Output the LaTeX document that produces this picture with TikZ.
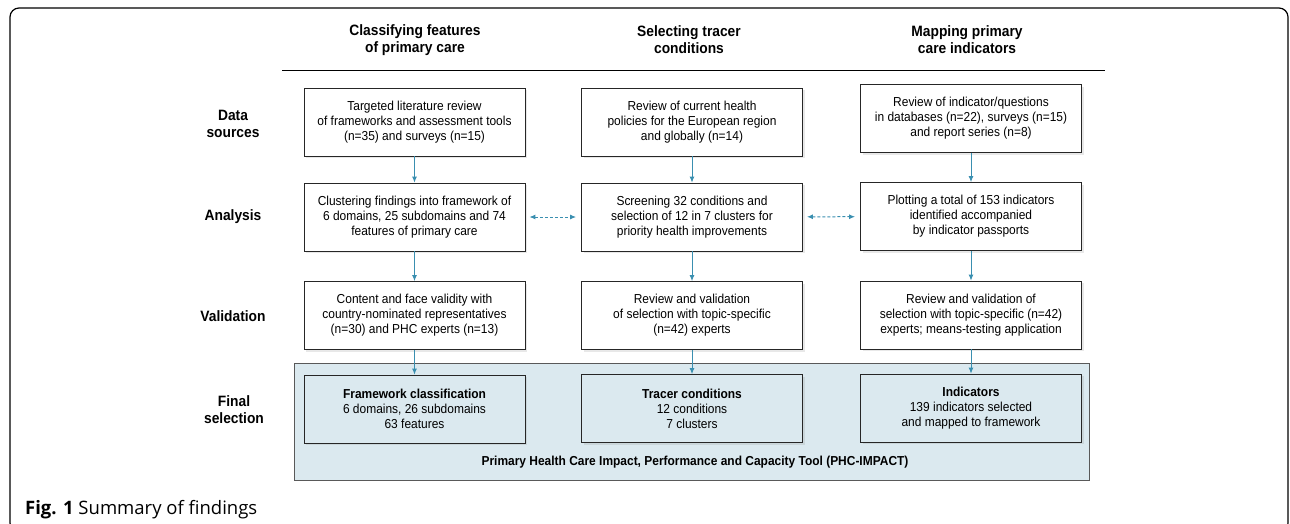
\documentclass[tikz,border=0pt]{standalone}
\usepackage{fontspec}
\setmainfont{Liberation Sans}
\newfontfamily\boxfont{Liberation Sans}[FakeStretch=0.92]
\newfontfamily\capfont{Open Sans}
\usetikzlibrary{arrows.meta,shadows}
\definecolor{flowblue}{HTML}{3A8FB0}
\definecolor{finalfill}{HTML}{DBE9EF}

\begin{document}
\begin{tikzpicture}[x=1pt,y=-1pt,
	box/.style={rectangle, draw=black!85, line width=0.8pt, fill=white, align=center,
		minimum width=221pt, minimum height=68pt, inner sep=0pt,
		font=\boxfont\fontsize{13}{15}\selectfont,
		drop shadow={opacity=0.18, shadow xshift=2pt, shadow yshift=-2pt}},
	finalbox/.style={box, fill=finalfill},
	rowlabel/.style={align=center, font=\boxfont\fontsize{15}{17}\selectfont\bfseries},
	header/.style={align=center, font=\boxfont\fontsize{15}{17}\selectfont\bfseries},
	flow/.style={draw=flowblue, line width=0.9pt, -{Latex[length=6pt,width=5pt]}},
	link/.style={draw=flowblue, line width=1pt, dash pattern=on 3pt off 2pt,
		{Latex[length=6pt,width=5pt]}-{Latex[length=6pt,width=5pt]}, shorten <=4pt, shorten >=5pt}]
	\useasboundingbox (0,0) rectangle (1290,523);
	\draw[line width=1.2pt, rounded corners=9pt] (10,8) rectangle (1288,532);

	% column headers
	\node (H1) at (415, 40)	[header]	{Classifying features\\of primary care};
	\node (H2) at (689, 40)	[header]	{Selecting tracer\\conditions};
	\node (H3) at (967, 40)	[header]	{Mapping primary\\care indicators};
	\draw[line width=1pt] (282,70) -- (1105,70);

	% row labels
	\node (L1) at (233, 124)	[rowlabel]	{Data\\sources};
	\node (L2) at (233, 217)	[rowlabel]	{Analysis};
	\node (L3) at (233, 316)	[rowlabel]	{Validation};
	\node (L4) at (234, 410)	[rowlabel]	{Final\\selection};

	% final selection panel
	\node (tool) at (691.5, 421.5) [rectangle, draw=black!65, line width=1pt, fill=finalfill,
		minimum width=795pt, minimum height=117pt, inner sep=0pt] {};
	\node (toolname) at (695, 462) [font=\boxfont\fontsize{13}{15}\selectfont\bfseries]
		{Primary Health Care Impact, Performance and Capacity Tool (PHC-IMPACT)};

	\node (F1) at (414.5, 122)	[box]	{Targeted literature review\\of frameworks and assessment tools\\(n=35) and surveys (n=15)};
	\node (T1) at (692, 122)	[box]	{Review of current health\\policies for the European region\\and globally (n=14)};
	\node (I1) at (971, 118.5)	[box]	{Review of indicator/questions\\in databases (n=22), surveys (n=15)\\and report series (n=8)};

	\node (F2) at (414.5, 217)	[box]	{Clustering findings into framework of\\6 domains, 25 subdomains and 74\\features of primary care};
	\node (T2) at (692, 217)	[box]	{Screening 32 conditions and\\selection of 12 in 7 clusters for\\priority health improvements};
	\node (I2) at (971, 216.5)	[box]	{Plotting a total of 153 indicators\\identified accompanied\\by indicator passports};

	\node (F3) at (414.5, 315.5)	[box]	{Content and face validity with\\country-nominated representatives\\(n=30) and PHC experts (n=13)};
	\node (T3) at (692, 315.5)	[box]	{Review and validation\\of selection with topic-specific\\(n=42) experts};
	\node (I3) at (971, 315)	[box]	{Review and validation of\\selection with topic-specific (n=42)\\experts; means-testing application};

	\node (F4) at (414.5, 409)	[finalbox]	{\textbf{Framework classification}\\6 domains, 26 subdomains\\63 features};
	\node (T4) at (692, 408.5)	[finalbox]	{\textbf{Tracer conditions}\\12 conditions\\7 clusters};
	\node (I4) at (971, 408)	[finalbox]	{\textbf{Indicators}\\139 indicators selected\\and mapped to framework};

	\draw[flow] (F1) -- (F2);
	\draw[flow] (F2) -- (F3);
	\draw[flow] (F3) -- (F4);
	\draw[flow] (T1) -- (T2);
	\draw[flow] (T2) -- (T3);
	\draw[flow] (T3) -- (T4);
	\draw[flow] (I1) -- (I2);
	\draw[flow] (I2) -- (I3);
	\draw[flow] (I3) -- (I4);
	\draw[link] (F2) -- (T2);
	\draw[link] (T2) -- (I2);

	\node (caption) at (25, 514) [anchor=base west, inner sep=0pt, font=\capfont\fontsize{18.5}{22}\selectfont]
		{\textbf{Fig. 1} Summary of findings};
\end{tikzpicture}
\end{document}
